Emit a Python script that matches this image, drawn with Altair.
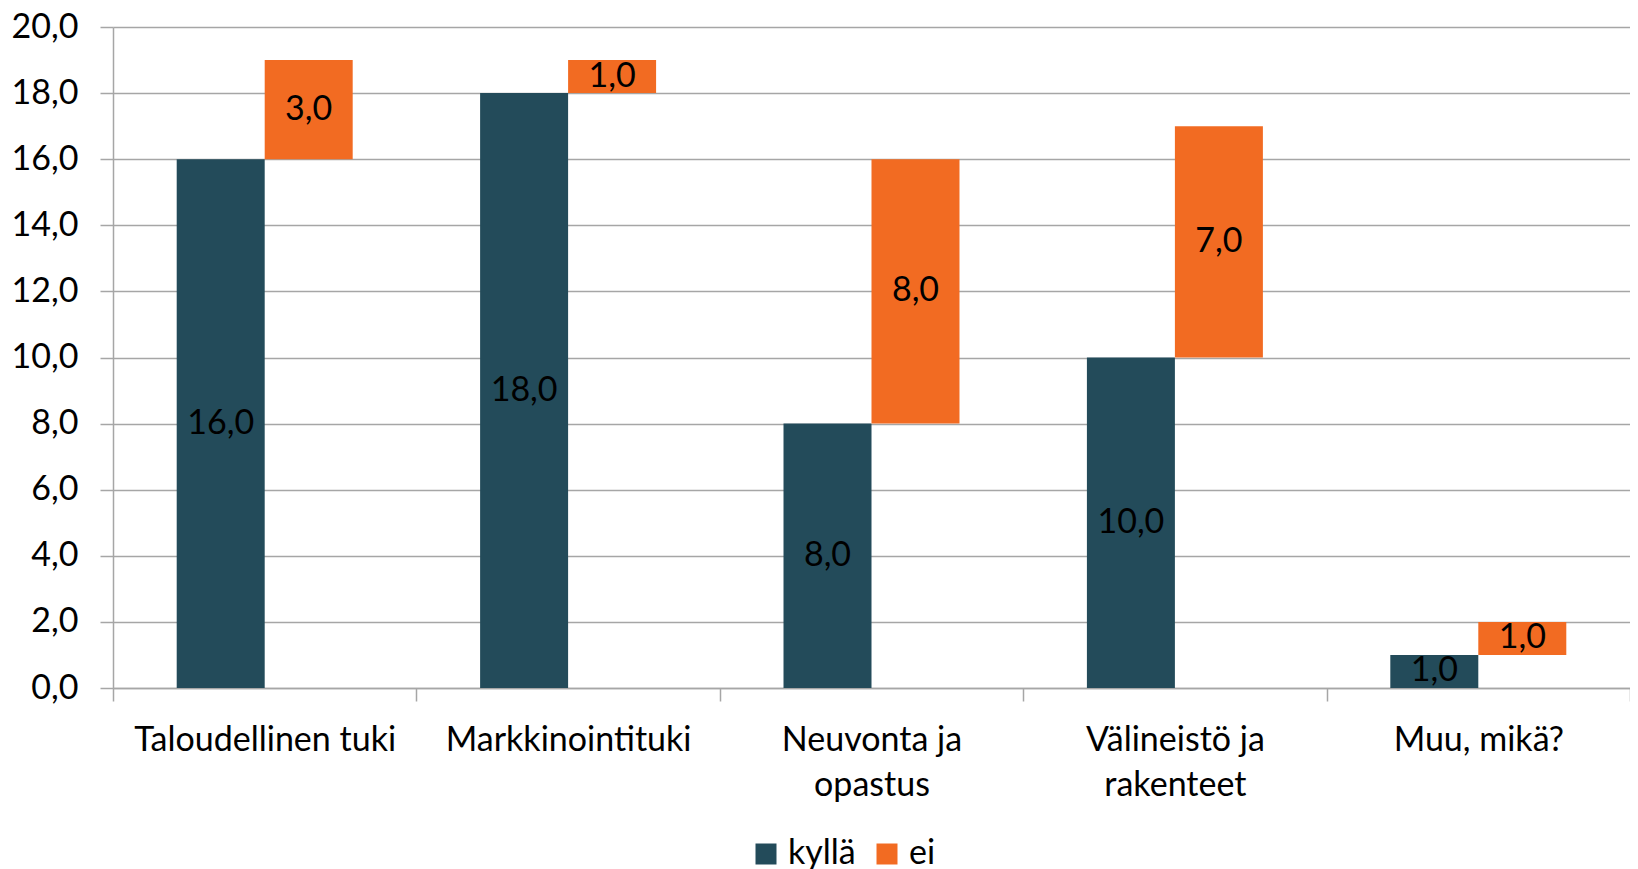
import altair as alt
import pandas as pd

categories = ["Taloudellinen tuki", "Markkinointituki", "Neuvonta ja opastus",
              "Välineistö ja rakenteet", "Muu, mikä?"]
kylla = [16.0, 18.0, 8.0, 10.0, 1.0]
ei = [3.0, 1.0, 8.0, 7.0, 1.0]
series = ["kyllä", "ei"]
colors = ["#234B5A", "#F26B22"]
y_ticks = [0, 2, 4, 6, 8, 10, 12, 14, 16, 18, 20]

rows = []
for c, k, e in zip(categories, kylla, ei):
    rows.append({"cat": c, "series": "kyllä", "start": 0.0, "end": k, "value": k})
    rows.append({"cat": c, "series": "ei", "start": k, "end": k + e, "value": e})
df = pd.DataFrame(rows)

FONT = "Lato"
FS = 34
GRID = "#A6A6A6"

x_label_expr = (
    "datum.label == 'Neuvonta ja opastus' ? ['Neuvonta ja', 'opastus'] : "
    "datum.label == 'Välineistö ja rakenteet' ? ['Välineistö ja', 'rakenteet'] : datum.label"
)

x_enc = alt.X(
    "cat:N", sort=categories,
    scale=alt.Scale(paddingInner=0, paddingOuter=0),
    axis=alt.Axis(title=None, labelAngle=0, tickBand="extent", grid=False,
                  domainColor=GRID, domainWidth=1.5, tickColor=GRID, tickWidth=1.5,
                  tickSize=13, labelFont=FONT, labelFontSize=FS, labelColor="#000000",
                  labelPadding=22, labelExpr=x_label_expr, labelLineHeight=45,
                  labelLimit=0),
)
xoff_enc = alt.XOffset("series:N", sort=series,
                       scale=alt.Scale(paddingInner=0, paddingOuter=0.724))
y_scale = alt.Scale(domain=[0, 20], nice=False)

base = alt.Chart(df).transform_calculate(
    mid="(datum.start + datum.end) / 2",
    label="replace(format(datum.value, '.1f'), '.', ',')",
)

bars = base.mark_bar().encode(
    x=x_enc,
    xOffset=xoff_enc,
    y=alt.Y("start:Q", scale=y_scale,
            axis=alt.Axis(title=None, values=y_ticks, grid=True, gridColor=GRID,
                          gridWidth=1.5, domainColor=GRID, domainWidth=1.5,
                          tickColor=GRID, tickWidth=1.5, tickSize=13,
                          labelFont=FONT, labelFontSize=FS, labelColor="#000000",
                          labelPadding=22, labelLimit=0,
                          labelExpr="replace(format(datum.value, '.1f'), '.', ',')")),
    y2="end:Q",
    color=alt.Color("series:N", sort=series,
                    scale=alt.Scale(domain=series, range=colors),
                    legend=alt.Legend(title=None, orient="none", direction="horizontal",
                                      legendX=636, legendY=810, symbolType="square",
                                      symbolSize=441, symbolStrokeWidth=0,
                                      labelFont=FONT, labelFontSize=FS,
                                      labelColor="#000000", labelOffset=5,
                                      columnPadding=14, padding=0, labelLimit=0)),
)

texts = base.mark_text(font=FONT, fontSize=FS, color="#000000").encode(
    x=alt.X("cat:N", sort=categories),
    xOffset=alt.XOffset("series:N", sort=series),
    y=alt.Y("mid:Q", scale=y_scale),
    text="label:N",
)

chart = alt.layer(bars, texts).properties(
    width=1517, height=661,
    padding={"left": 105, "top": 19, "right": 0, "bottom": 188},
    autosize=alt.AutoSizeParams(type="none"),
).configure_view(stroke=None)

chart.save("out.html", embed_options={"renderer": "svg", "actions": False})
